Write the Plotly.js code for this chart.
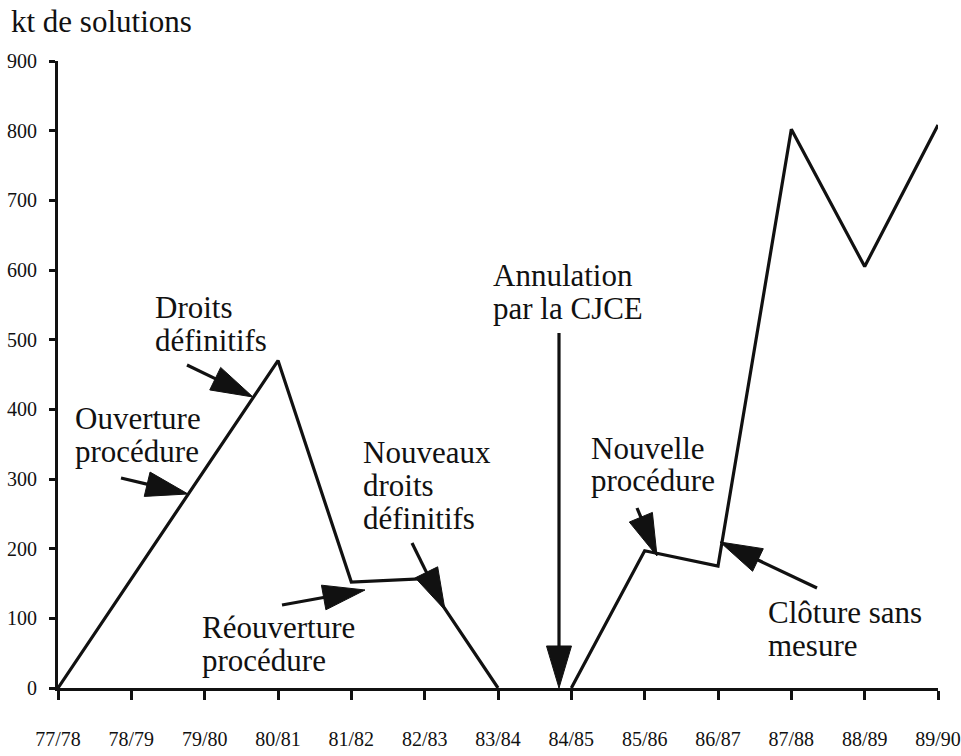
<!DOCTYPE html>
<html>
<head>
<meta charset="utf-8">
<script src="https://cdn.plot.ly/plotly-3.0.1.min.js"></script>
<style>
  html, body { margin: 0; padding: 0; background: #fff; }
  #chart { width: 961px; height: 756px; }
</style>
</head>
<body>
<div id="chart"></div>
<script>
// ---- data ----
const campaigns = ['77/78','78/79','79/80','80/81','81/82','82/83','83/84','84/85','85/86','86/87','87/88','88/89','89/90'];
const tonnage   = [0, null, null, 470, 152, 157, 0, 0, 197, 175, 802, 605, 808]; // kt de solutions
const yTicks    = [0, 100, 200, 300, 400, 500, 600, 700, 800, 900];
const yTitle    = 'kt de solutions';

// event labels (text lines)
const lblOuverture   = ['Ouverture', 'procédure'];
const lblDroits      = ['Droits', 'définitifs'];
const lblReouverture = ['Réouverture', 'procédure'];
const lblNouveaux    = ['Nouveaux', 'droits', 'définitifs'];
const lblAnnulation  = ['Annulation', 'par la CJCE'];
const lblNouvelle    = ['Nouvelle', 'procédure'];
const lblCloture     = ['Clôture sans', 'mesure'];

// ---- layout geometry (pixels) ----
const W = 961, H = 756;
const M = {l: 58, r: 23, t: 61, b: 68};
const PW = W - M.l - M.r, PH = H - M.t - M.b;
const X = px => (px - M.l) / PW;
const Y = py => (H - M.b - py) / PH;

const FONT = 'Liberation Serif';
const LINE = 33;

const annotations = [];
function addLabel(lines, left, baseline) {
  lines.forEach((t, i) => {
    annotations.push({
      xref: 'paper', yref: 'paper',
      x: X(left), y: Y(baseline + i * LINE - 10),
      xanchor: 'left', yanchor: 'middle',
      text: t, showarrow: false, borderpad: 0,
      font: {family: FONT, size: 31, color: '#111'}
    });
  });
}
addLabel(lblOuverture, 74, 428);
addLabel(lblDroits, 154, 317);
addLabel(lblReouverture, 201, 637);
addLabel(lblNouveaux, 362, 462);
addLabel(lblAnnulation, 492, 285);
addLabel(lblNouvelle, 590, 458);
addLabel(lblCloture, 767, 622);

const shapes = [];
function addArrow(tx, ty, hx, hy) {
  const L = 42, Wd = 12.5;
  const dx = hx - tx, dy = hy - ty, d = Math.hypot(dx, dy);
  const ux = dx / d, uy = dy / d, nx = -uy, ny = ux;
  const bx = hx - L * ux, by = hy - L * uy;
  shapes.push({type: 'line', xref: 'paper', yref: 'paper',
    x0: X(tx), y0: Y(ty), x1: X(bx + 4 * ux), y1: Y(by + 4 * uy),
    line: {color: '#111', width: 3.2}});
  const p = [[hx, hy], [bx + Wd * nx, by + Wd * ny], [bx - Wd * nx, by - Wd * ny]]
    .map(q => X(q[0]).toFixed(5) + ',' + Y(q[1]).toFixed(5));
  shapes.push({type: 'path', xref: 'paper', yref: 'paper',
    path: 'M' + p[0] + 'L' + p[1] + 'L' + p[2] + 'Z',
    fillcolor: '#111', line: {color: '#111', width: 1}});
}
addArrow(121, 478, 188, 494);
addArrow(187, 365, 253, 397);
addArrow(282, 605, 365, 590);
addArrow(412, 543, 445, 610);
addArrow(559, 333, 559, 688);
addArrow(637, 508, 657, 556);
addArrow(817, 588, 720, 542);

// two segments: before and after the annulment gap
const split = campaigns.indexOf('84/85');
const lineStyle = {color: '#111', width: 3.2};
const traces = [
  {type: 'scatter', mode: 'lines', x: campaigns.slice(0, split), y: tonnage.slice(0, split),
   connectgaps: true, line: lineStyle, hoverinfo: 'x+y', cliponaxis: false},
  {type: 'scatter', mode: 'lines', x: campaigns.slice(split), y: tonnage.slice(split),
   connectgaps: true, line: lineStyle, hoverinfo: 'x+y', cliponaxis: false}
];

const tickFont = {family: FONT, size: 20, color: '#111'};

const layout = {
  width: W, height: H,
  margin: M,
  paper_bgcolor: '#fff', plot_bgcolor: '#fff',
  showlegend: false,
  title: {
    text: yTitle, xref: 'container', yref: 'container',
    x: 11 / W, xanchor: 'left', y: 1 - 21 / H, yanchor: 'middle',
    font: {family: FONT, size: 31, color: '#111'}
  },
  xaxis: {
    type: 'category', categoryorder: 'array', categoryarray: campaigns,
    range: [0, campaigns.length - 1],
    showline: true, linecolor: '#111', linewidth: 3,
    ticks: 'outside', ticklen: 9, tickwidth: 2.5, tickcolor: '#111',
    showgrid: false, zeroline: false, tickfont: tickFont,
    ticklabelstandoff: 22, fixedrange: true
  },
  xaxis2: {
    overlaying: 'x', anchor: 'y', type: 'linear',
    range: [0, campaigns.length - 1], tick0: 0, dtick: 1,
    ticks: 'inside', ticklen: 8, tickwidth: 2.5, tickcolor: '#111',
    showline: false, showgrid: false, zeroline: false, showticklabels: false,
    fixedrange: true
  },
  yaxis: {
    range: [0, 900], tickvals: yTicks, ticktext: yTicks.map(String),
    showline: true, linecolor: '#111', linewidth: 3,
    ticks: 'outside', ticklen: 6, tickwidth: 2.5, tickcolor: '#111',
    showgrid: false, zeroline: false, tickfont: tickFont,
    ticklabelstandoff: 8, fixedrange: true
  },
  yaxis2: {
    overlaying: 'y', anchor: 'x', side: 'left',
    range: [0, 900], tickvals: yTicks,
    ticks: 'inside', ticklen: 6, tickwidth: 2.5, tickcolor: '#111',
    showline: false, showgrid: false, zeroline: false, showticklabels: false,
    fixedrange: true
  },
  annotations: annotations,
  shapes: shapes
};

Plotly.newPlot('chart', traces, layout, {displayModeBar: false});
</script>
</body>
</html>
